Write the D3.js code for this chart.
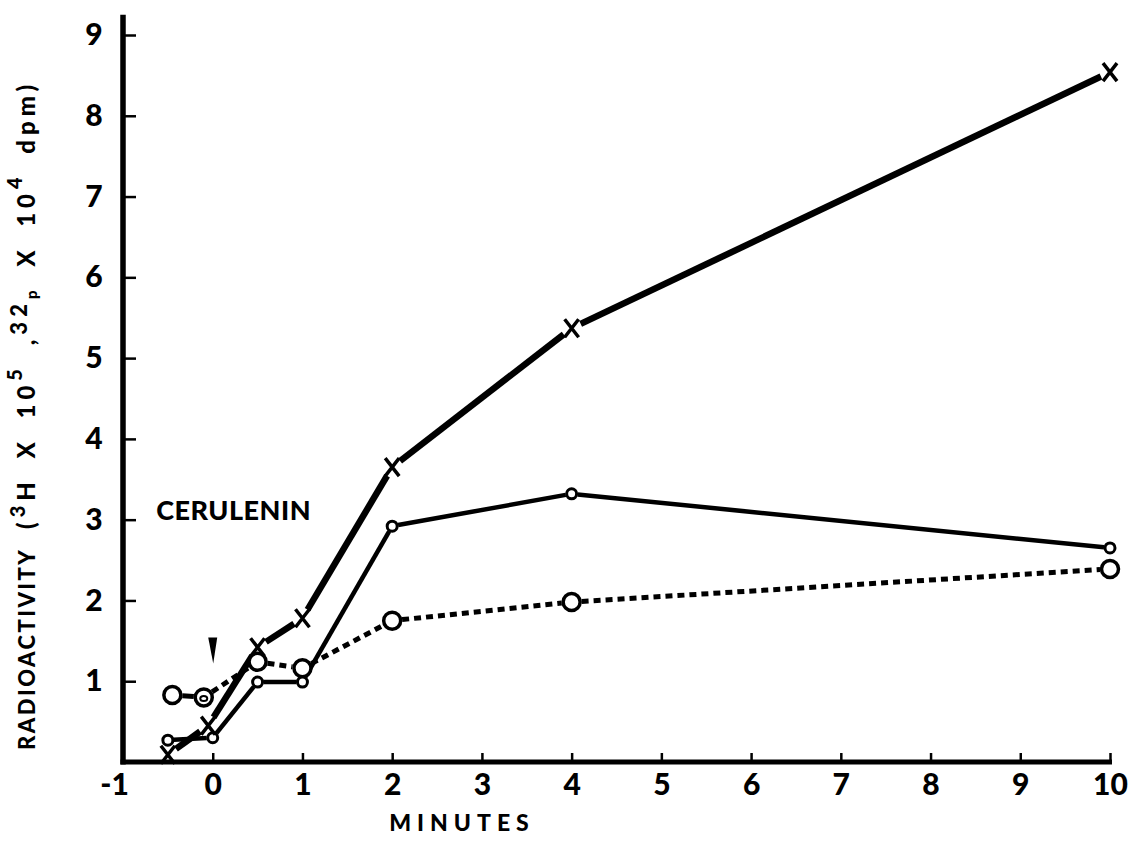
<!DOCTYPE html>
<html>
<head>
<meta charset="utf-8">
<script src="https://cdn.jsdelivr.net/npm/d3@7"></script>
<style>
  html, body { margin: 0; padding: 0; background: #fff; }
  svg { display: block; }
  text { font-family: Lato, "DejaVu Sans", sans-serif; font-weight: 900; fill: #000; }
</style>
</head>
<body>
<svg id="chart" width="1136" height="843"></svg>
<script>
// Axis ticks
const minuteTicks = [-1, 0, 1, 2, 3, 4, 5, 6, 7, 8, 9, 10];
const activityTicks = [1, 2, 3, 4, 5, 6, 7, 8, 9];

// Series marked with crosses (upper curve)
const crossMinutes = [-0.5, -0.05, 0.5, 1, 2, 4, 10];
const crossValues  = [0.09, 0.45, 1.42, 1.78, 3.65, 5.37, 8.54];

// Series marked with small open circles (solid line)
const smallMinutes = [-0.5, 0, 0.5, 1, 2, 4, 10];
const smallValues  = [0.27, 0.30, 0.99, 0.99, 2.92, 3.32, 2.65];

// Series marked with large open circles (dotted line)
const largeMinutes = [-0.45, -0.1, 0.5, 1, 2, 4, 10];
const largeValues  = [0.83, 0.80, 1.24, 1.16, 1.75, 1.98, 2.39];

// Annotations
const additionMinute = 0;            // arrow marking the addition of the drug
const arrowTop = 1.54, arrowTip = 1.22;
const drugLabel = "CERULENIN";
const drugLabelAt = { minute: -0.63, value: 3.0 };

const svg = d3.select("#chart");

const x = d3.scaleLinear().domain([-1, 10]).range([123, 1110]);
const y = d3.scaleLinear().domain([0, 9]).range([762, 35]);

// ---- axes ----
const xAxis = d3.axisBottom(x)
  .tickValues(minuteTicks)
  .tickSize(-9)
  .tickSizeOuter(0)
  .tickPadding(12)
  .tickFormat(d => d < 0 ? "-" + Math.abs(d) : String(d));

const gx = svg.append("g")
  .attr("transform", `translate(0,${y(0)})`)
  .call(xAxis);
gx.select(".domain").remove();
gx.selectAll(".tick line").attr("stroke", "#000").attr("stroke-width", 2.5);
gx.selectAll(".tick text")
  .attr("font-size", 30)
  .attr("fill", "#000")
  .attr("dx", d => d < 0 ? -9 : 0);

const yAxis = d3.axisLeft(y)
  .tickValues(activityTicks)
  .tickSize(-13)
  .tickSizeOuter(0)
  .tickPadding(20);

const gy = svg.append("g")
  .attr("transform", `translate(${x(-1)},0)`)
  .call(yAxis);
gy.select(".domain").remove();
gy.selectAll(".tick line").attr("stroke", "#000").attr("stroke-width", 2.5);
gy.selectAll(".tick text")
  .attr("font-size", 30)
  .attr("fill", "#000")
  .attr("text-anchor", "middle")
  .attr("x", -29);

// axis lines
svg.append("line")
  .attr("x1", x(-1) - 2.5).attr("x2", x(10) + 2)
  .attr("y1", y(0)).attr("y2", y(0))
  .attr("stroke", "#000").attr("stroke-width", 5);
svg.append("line")
  .attr("x1", x(-1)).attr("x2", x(-1))
  .attr("y1", y(0) + 2.5).attr("y2", y(9.25))
  .attr("stroke", "#000").attr("stroke-width", 5.5);

// axis titles
svg.append("text")
  .attr("x", 462).attr("y", 831)
  .attr("text-anchor", "middle")
  .attr("font-size", 23)
  .attr("letter-spacing", 6)
  .text("MINUTES");

const yTitle = svg.append("text")
  .attr("transform", "translate(35,750) rotate(-90)")
  .attr("font-size", 22)
  .attr("letter-spacing", 2.5);
yTitle.append("tspan").text("RADIOACTIVITY");
const unit = yTitle.append("tspan").attr("font-size", 24).attr("letter-spacing", 5).attr("word-spacing", 8);
unit.append("tspan").text(" (");
unit.append("tspan").attr("font-size", 20).attr("dy", -10).text("3");
unit.append("tspan").attr("dy", 10).text("H X 10");
unit.append("tspan").attr("font-size", 20).attr("dy", -13).text("5");
unit.append("tspan").attr("dy", 13).text(" ,");
unit.append("tspan").attr("font-size", 22).attr("dy", -8).text("32");
unit.append("tspan").attr("font-size", 15).attr("dy", 10).text("p");
unit.append("tspan").attr("dy", -2).text(" X 10");
unit.append("tspan").attr("font-size", 20).attr("dy", -13).text("4");
unit.append("tspan").attr("dy", 13).text(" dpm)");

// ---- data ----
function toPoints(ms, vs) { return ms.map((m, i) => [x(m), y(vs[i])]); }

// segment between two points, pulled back from each marker
function trimmed(p0, p1, g0, g1) {
  const dx = p1[0] - p0[0], dy = p1[1] - p0[1];
  const L = Math.hypot(dx, dy);
  const ux = dx / L, uy = dy / L;
  return [[p0[0] + ux * g0, p0[1] + uy * g0], [p1[0] - ux * g1, p1[1] - uy * g1]];
}
const line = d3.line();

function drawSegments(pts, gap, width, dashFor) {
  const g = svg.append("g").attr("fill", "none").attr("stroke", "#000");
  for (let i = 0; i < pts.length - 1; i++) {
    g.append("path")
      .attr("d", line(trimmed(pts[i], pts[i + 1], gap, gap)))
      .attr("stroke-width", width)
      .attr("stroke-dasharray", dashFor ? dashFor(i) : null);
  }
}

const crossPts = toPoints(crossMinutes, crossValues);
const smallPts = toPoints(smallMinutes, smallValues);
const largePts = toPoints(largeMinutes, largeValues);

// large-circle series: the pre-addition pair is joined solid, the rest dotted
drawSegments(largePts, 10, 5, i => i === 0 ? null : "7,5");
drawSegments(smallPts, 6, 4.5);
drawSegments(crossPts, 10, 6.5);

// markers
svg.append("g").selectAll("circle").data(largePts).join("circle")
  .attr("cx", d => d[0]).attr("cy", d => d[1]).attr("r", 8.5)
  .attr("fill", "#fff").attr("stroke", "#000").attr("stroke-width", 3.5);
// inner ring on the point just before addition
svg.append("ellipse")
  .attr("cx", largePts[1][0]).attr("cy", largePts[1][1] + 1)
  .attr("rx", 3.5).attr("ry", 2.5)
  .attr("fill", "none").attr("stroke", "#000").attr("stroke-width", 2);

svg.append("g").selectAll("circle").data(smallPts).join("circle")
  .attr("cx", d => d[0]).attr("cy", d => d[1]).attr("r", 5)
  .attr("fill", "#fff").attr("stroke", "#000").attr("stroke-width", 3);

svg.append("g").selectAll("path").data(crossPts).join("path")
  .attr("transform", d => `translate(${d[0]},${d[1]})`)
  .attr("d", "M-7,-9L7,9M7,-9L-7,9")
  .attr("fill", "none").attr("stroke", "#000").attr("stroke-width", 3.5);

// arrow at the time of addition
const ax = x(additionMinute);
svg.append("path")
  .attr("d", `M${ax - 4.5},${y(arrowTop)}L${ax + 4.5},${y(arrowTop)}L${ax + 0.5},${y(arrowTip)}Z`)
  .attr("fill", "#000");

svg.append("text")
  .attr("x", x(drugLabelAt.minute)).attr("y", y(drugLabelAt.value))
  .attr("font-size", 27)
  .attr("letter-spacing", 0.5)
  .text(drugLabel);
</script>
</body>
</html>
